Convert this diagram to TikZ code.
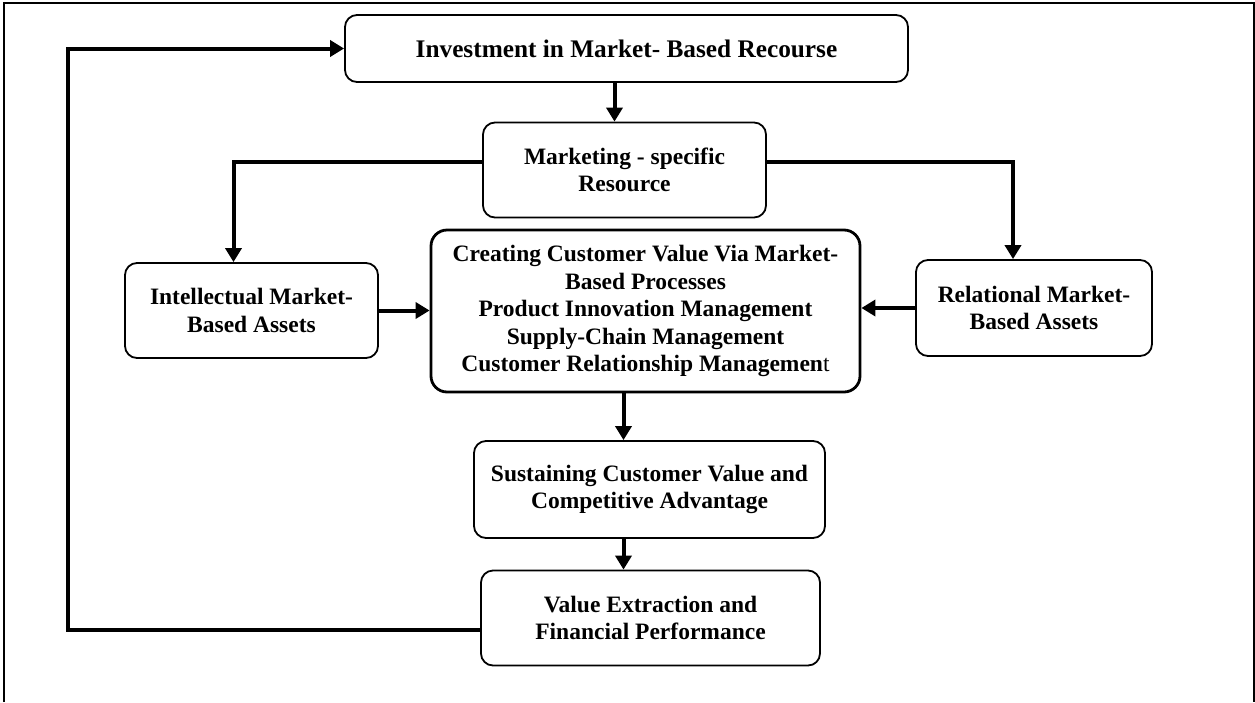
\documentclass[tikz,border=0pt]{standalone}
\usepackage{fontspec}
\setmainfont{Liberation Serif}
\usetikzlibrary{arrows.meta,calc}
\begin{document}
\begin{tikzpicture}[x=1pt,y=-1pt,
  box/.style={draw,line width=1.8pt,rounded corners=12pt,align=center,inner sep=0pt,
    font=\bfseries\fontsize{23.5}{27.5}\selectfont},
  bigbox/.style={box,line width=2.8pt,rounded corners=16pt},
  conn/.style={line width=4pt,-{Triangle[length=14pt,width=16pt]}}]
\useasboundingbox (0,0) rectangle (1255,702);
\draw[line width=1.4pt] (4,702) -- (4,3) -- (1254,3) -- (1254,702);

\node[box,minimum width=563,minimum height=67,font=\bfseries\fontsize{25.3}{28}\selectfont] (inv) at (626.5,48.5) {Investment in Market- Based Recourse};
\node[box,minimum width=283,minimum height=95] (mkt) at (624.5,170) {Marketing - specific\\Resource};
\node[box,minimum width=253,minimum height=95] (intel) at (251.5,310.5) {Intellectual Market-\\Based Assets};
\node[bigbox,minimum width=429,minimum height=162] (ctr) at (645.5,311) {Creating Customer Value Via Market-\\Based Processes\\Product Innovation Management\\Supply-Chain Management\\Customer Relationship Managemen\textmd{t}};
\node[box,minimum width=236,minimum height=96] (rel) at (1034,308) {Relational Market-\\Based Assets};
\node[box,minimum width=351,minimum height=97] (sus) at (649.5,489.5) {Sustaining Customer Value and\\Competitive Advantage};
\node[box,minimum width=339,minimum height=95] (val) at (650.5,618) {Value Extraction and\\Financial Performance};

\coordinate (fb) at (68,630);
\coordinate (fbt) at (68,48.5);

\draw[conn] ([xshift=-12pt]inv.south) -- ([xshift=-12pt]inv.south |- mkt.north);
\draw[conn] ([yshift=8pt]mkt.west) -| ([xshift=-18pt]intel.north);
\draw[conn] ([yshift=8pt]mkt.east) -| ([xshift=-21pt]rel.north);
\draw[conn] (intel.east) -- (intel.east -| ctr.west);
\draw[conn] (rel.west) -- (rel.west -| ctr.east);
\draw[conn] ([xshift=-22pt]ctr.south) -- ([xshift=-22pt]ctr.south |- sus.north);
\draw[conn] ([xshift=-26pt]sus.south) -- ([xshift=-26pt]sus.south |- val.north);
\draw[conn] ([yshift=-12pt]val.west) -- (fb) -- (fbt) -- (inv.west);
\end{tikzpicture}
\end{document}
